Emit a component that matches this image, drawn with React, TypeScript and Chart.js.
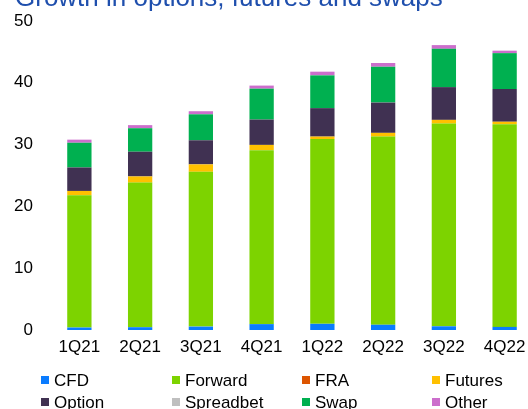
import React, { useEffect, useRef } from "react";
import { Chart, registerables } from "chart.js";

Chart.register(...registerables);

const categories = ["1Q21", "2Q21", "3Q21", "4Q21", "1Q22", "2Q22", "3Q22", "4Q22"];
const cfd = [0.4, 0.45, 0.55, 0.95, 1.0, 0.85, 0.6, 0.5];
const forward = [21.4, 23.4, 25.05, 28.15, 29.9, 30.45, 32.8, 32.8];
const fra = [0, 0, 0, 0, 0, 0, 0, 0];
const futures = [0.7, 1.0, 1.2, 0.85, 0.4, 0.6, 0.6, 0.4];
const option = [3.8, 4.0, 3.9, 4.1, 4.6, 4.9, 5.3, 5.3];
const spreadbet = [0, 0, 0, 0, 0, 0, 0, 0];
const swap = [4.0, 3.8, 4.2, 5.0, 5.3, 5.8, 6.2, 5.8];
const other = [0.5, 0.5, 0.5, 0.5, 0.6, 0.6, 0.6, 0.4];
const yTicks = [0, 10, 20, 30, 40, 50];
const title = "Growth in options, futures and swaps";

const seriesNames = ["CFD", "Forward", "FRA", "Futures", "Option", "Spreadbet", "Swap", "Other"];
const seriesData = [cfd, forward, fra, futures, option, spreadbet, swap, other];
const seriesColors = ["#0a7cff", "#7dd300", "#dd5500", "#ffc000", "#403152", "#bfbfbf", "#00b050", "#cc6ecc"];

const FONT = "'Liberation Sans', Arial, sans-serif";

const extrasPlugin = {
  id: "extras",
  afterDraw(chart: any) {
    const ctx = chart.ctx;
    ctx.save();
    ctx.fillStyle = "#1f4fad";
    ctx.font = `26px ${FONT}`;
    ctx.textBaseline = "alphabetic";
    ctx.textAlign = "left";
    ctx.fillText(title, 15, 6);
    const colX = [41, 172, 302, 432];
    const rowY = [380, 402];
    ctx.font = `17px ${FONT}`;
    ctx.textBaseline = "middle";
    seriesNames.forEach((name, i) => {
      const c = i % 4;
      const r = Math.floor(i / 4);
      const x = colX[c];
      const y = rowY[r];
      ctx.fillStyle = seriesColors[i];
      ctx.fillRect(x, y - 4, 8, 8);
      ctx.fillStyle = "#000";
      ctx.fillText(name, x + 13, y + 1);
    });
    ctx.restore();
  },
};

export default function App() {
  const ref = useRef<HTMLCanvasElement | null>(null);
  useEffect(() => {
    document.body.style.margin = "0";
    const canvas = ref.current!;
    const chart = new Chart(canvas, {
      type: "bar",
      data: {
        labels: categories,
        datasets: seriesNames.map((n, i) => ({
          label: n,
          data: seriesData[i],
          backgroundColor: seriesColors[i],
          borderWidth: 0,
          barPercentage: 0.4,
          categoryPercentage: 1,
        })),
      },
      options: {
        responsive: false,
        animation: false,
        maintainAspectRatio: false,
        layout: { padding: { top: 21, left: 13, right: 1, bottom: 44.6 } },
        plugins: { legend: { display: false }, title: { display: false }, tooltip: { enabled: false } },
        scales: {
          x: {
            stacked: true,
            grid: { display: false, drawTicks: false },
            border: { display: false },
            ticks: { color: "#000", font: { family: FONT, size: 17 }, padding: 7, maxRotation: 0, autoSkip: false },
          },
          y: {
            stacked: true,
            min: 0,
            max: 50,
            afterBuildTicks: (scale: any) => {
              scale.ticks = yTicks.map((v) => ({ value: v }));
            },
            afterFit: (scale: any) => {
              scale.width = 36;
              scale.paddingTop = 0;
              scale.paddingBottom = 0;
            },
            grid: { display: false, drawTicks: false },
            border: { display: false },
            ticks: { color: "#000", font: { family: FONT, size: 17 }, padding: 16 },
          },
        },
      },
      plugins: [extrasPlugin],
    });
    return () => chart.destroy();
  }, []);
  return (
    <div style={{ position: "fixed", left: 0, top: 0, width: 528, height: 409, overflow: "hidden", background: "#fff" }}>
      <canvas ref={ref} width={536} height={409} style={{ display: "block" }} />
    </div>
  );
}
